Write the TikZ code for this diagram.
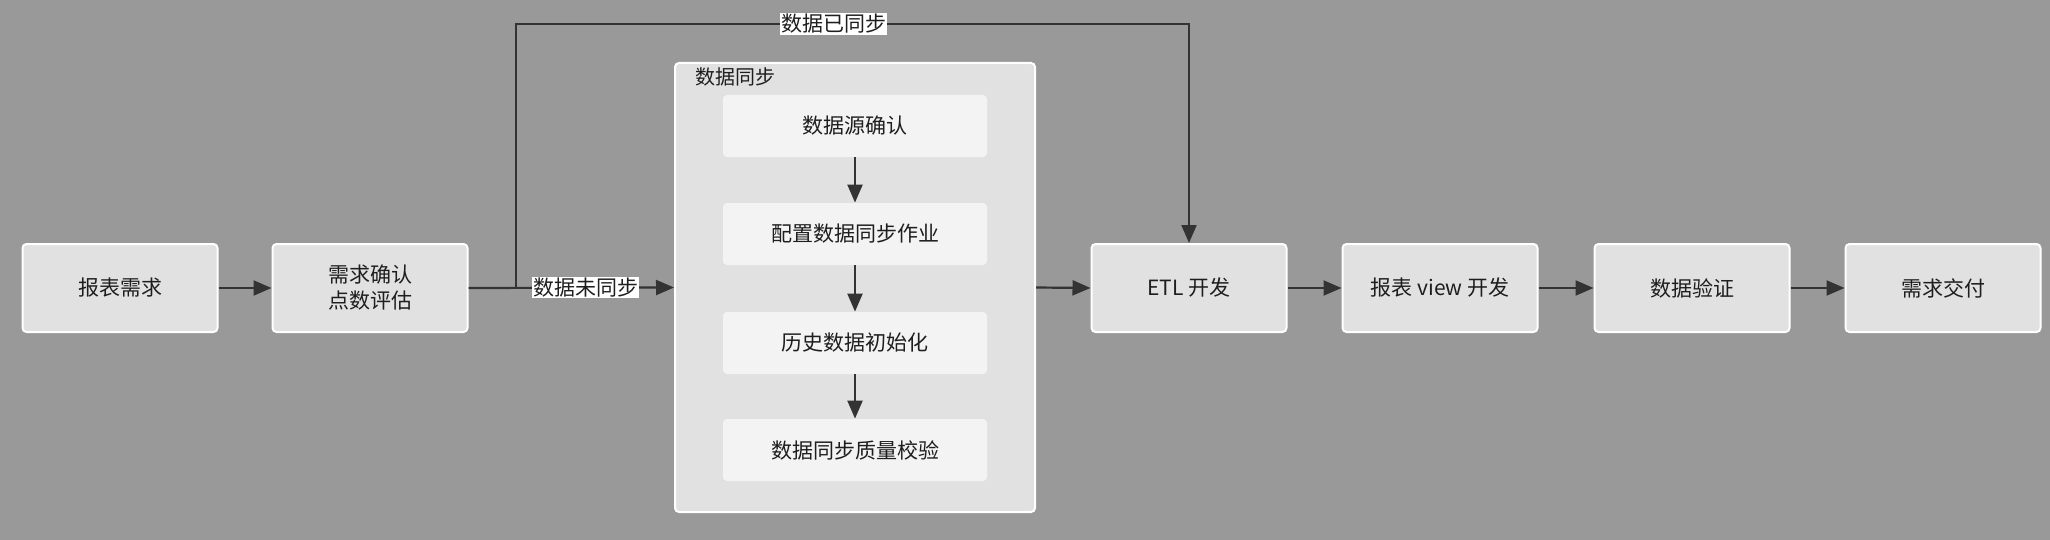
\documentclass[tikz,border=0pt]{standalone}
\usepackage{fontspec}
\setmainfont{Noto Sans CJK SC}
\usepackage{xcolor}
\usepackage{tikz}
\usetikzlibrary{arrows.meta}
\definecolor{canvas}{HTML}{999999}
\definecolor{boxfill}{HTML}{E1E1E1}
\definecolor{subfill}{HTML}{F3F3F3}
\definecolor{ink}{HTML}{333333}
\definecolor{label}{HTML}{1E1E1E}

\tikzset{
  stage/.style={draw=white, line width=1pt, rounded corners=2pt, fill=boxfill,
    minimum width=97.5pt, minimum height=44pt, align=center, text=label,
    font=\fontsize{10.5pt}{13pt}\selectfont},
  substage/.style={rounded corners=2pt, fill=subfill, minimum width=132pt,
    minimum height=31pt, text=label, font=\fontsize{10.5pt}{13pt}\selectfont},
  flow/.style={-{Triangle[length=9pt,width=7.5pt]}, ink, line width=1.1pt},
  tag/.style={fill=white, inner sep=0.5pt, text=label, font=\fontsize{10.5pt}{13pt}\selectfont}
}

\begin{document}
\begin{tikzpicture}[x=0.5pt, y=-0.5pt]
          \fill[canvas] (0,0) rectangle (2050,540);
          \useasboundingbox (0,0) rectangle (2050,540);

          % main row
          \node[stage] (req) at (120,288) {报表需求};
          \node[stage] (eval) at (370,288) {需求确认\\点数评估};
          \node[stage] (etl) at (1189,288) {ETL 开发};
          \node[stage] (view) at (1440,288) {报表 view 开发};
          \node[stage] (check) at (1692,288) {数据验证};
          \node[stage] (deliver) at (1943,288) {需求交付};

          % data sync group
          \node[stage, minimum width=180pt, minimum height=224.5pt] (sync) at (855,287.5) {};
          \node[anchor=west, text=label, font=\fontsize{10pt}{12pt}\selectfont] (synctitle) at (688,77) {数据同步};
          \node[substage] (src) at (855,126) {数据源确认};
          \node[substage] (job) at (855,234) {配置数据同步作业};
          \node[substage] (init) at (855,343) {历史数据初始化};
          \node[substage] (qa) at (855,450) {数据同步质量校验};

          \draw[flow] (src) -- (job);
          \draw[flow] (job) -- (init);
          \draw[flow] (init) -- (qa);

          \draw[flow] (req) -- (eval);
          \coordinate (fork) at (516,288);
          \coordinate (over) at (516,24);
          \draw[flow] (eval.east) -- node[tag, pos=0.57] {数据未同步} (sync.west);
          \draw[flow] (fork) -- (over) -| node[tag, pos=0.236] {数据已同步} (etl.north);
          \draw[flow] (sync.east) -- (etl.west);
          \draw[flow] (etl) -- (view);
          \draw[flow] (view) -- (check);
          \draw[flow] (check) -- (deliver);
        \end{tikzpicture}
\end{document}
